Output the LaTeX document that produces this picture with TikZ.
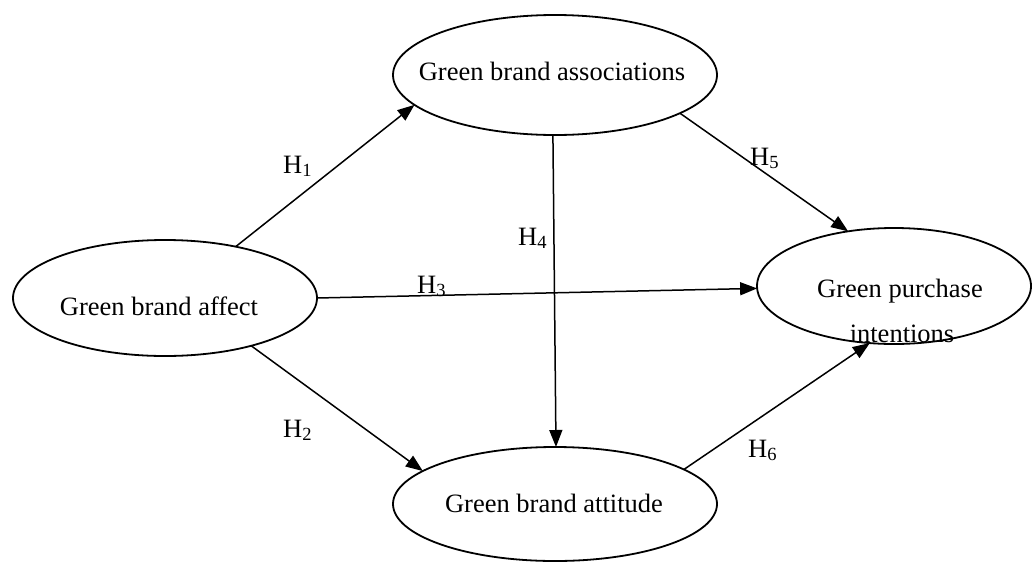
\documentclass[tikz,border=0pt]{standalone}
\usepackage{fontspec}
\setmainfont{Liberation Serif}
\usetikzlibrary{arrows.meta,shapes.geometric}
\begin{document}
\begin{tikzpicture}[x=1pt,y=-1pt,
  construct/.style={draw, ellipse, line width=1.8pt, inner sep=0pt, outer sep=0pt},
  txt/.style={font=\fontsize{26.5}{32}\selectfont, anchor=base, inner sep=0pt},
  hyp/.style={font=\fontsize{26.5}{32}\selectfont, anchor=base west, inner sep=0pt},
  link/.style={line width=1.5pt, -{Triangle[length=17pt,width=13pt]}}
]
\useasboundingbox (0,0) rectangle (1032,562);
% constructs
\node[construct, minimum width=324pt, minimum height=120pt] (assoc) at (555,75) {};
\node[construct, minimum width=304pt, minimum height=116pt] (affect) at (165,298) {};
\node[construct, minimum width=274pt, minimum height=116pt] (purchase) at (894,286) {};
\node[construct, minimum width=324pt, minimum height=114pt] (attitude) at (555,504) {};
% texts
\node[txt] (assoctext) at (552,80) {Green brand associations};
\node[txt] (affecttext) at (159,315) {Green brand affect};
\node[txt] (purtexta) at (900,297) {Green purchase};
\node[txt] (purtextb) at (902,342) {intentions};
\node[txt] (atttext) at (554,512) {Green brand attitude};
% paths
\draw[link] (affect.36.7) -- (assoc.192.3);
\draw[link] (affect.331) -- (attitude.166.6);
\draw[link] (affect.0.4) -- (purchase.181.3);
\draw[link] (assoc.268) -- (attitude.89);
\draw[link] (assoc.343.5) -- (purchase.130.4);
\draw[link] (attitude.15.1) -- (purchase.247.2);
% hypothesis labels
\node[hyp] (h1) at (283,173) {H\textsubscript{1}};
\node[hyp] (h2) at (283,437) {H\textsubscript{2}};
\node[hyp] (h3) at (417,293) {H\textsubscript{3}};
\node[hyp] (h4) at (518,245) {H\textsubscript{4}};
\node[hyp] (h5) at (750,165) {H\textsubscript{5}};
\node[hyp] (h6) at (748,457) {H\textsubscript{6}};
\end{tikzpicture}
\end{document}
